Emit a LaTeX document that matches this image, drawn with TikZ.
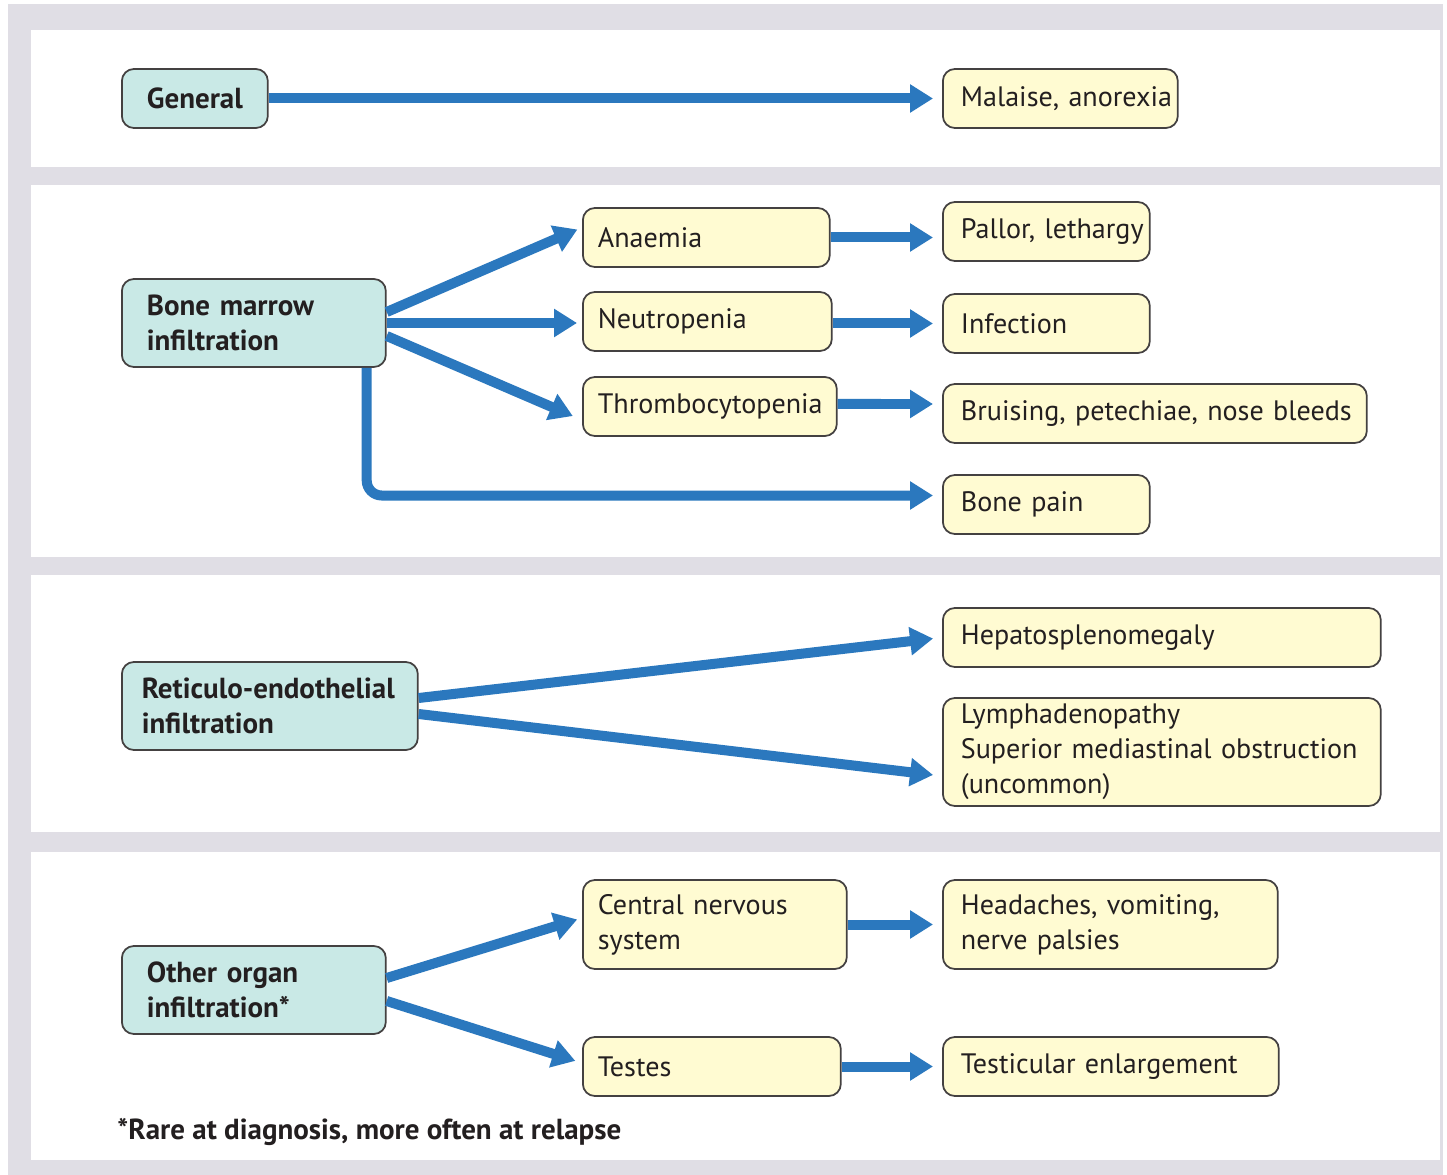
\documentclass[tikz,border=0pt]{standalone}
\usepackage{fontspec}
\setmainfont{PT Sans}
\usetikzlibrary{arrows.meta}

\definecolor{framegray}{HTML}{E0DEE5}
\definecolor{causefill}{HTML}{C9E9E6}
\definecolor{signfill}{HTML}{FFFBD2}
\definecolor{arrowblue}{HTML}{2B78BE}
\definecolor{inkdark}{HTML}{231F20}

\hyphenpenalty=10000
\exhyphenpenalty=10000

\begin{document}
\begin{tikzpicture}[
  x=0.02cm, y=-0.02cm,
  every node/.style={font=\fontsize{16}{20}\selectfont, text=inkdark},
  cause/.style={draw=inkdark!85, line width=1pt, fill=causefill,
    rounded corners=0.24cm, anchor=west, align=left,
    inner xsep=0.5cm, minimum height=1.76cm, font=\fontsize{16.5}{20}\selectfont\bfseries},
  sign/.style={draw=inkdark!85, line width=1pt, fill=signfill,
    rounded corners=0.24cm, anchor=west, align=left,
    inner xsep=0.36cm, minimum height=1.18cm},
  arr/.style={arrowblue, line width=0.2cm,
    -{Triangle[length=0.46cm, width=0.54cm]}, shorten >=0.18cm}
]
  \useasboundingbox (0,0) rectangle (1447,1175);
  % panels
  \fill[framegray] (8,4) rectangle (1443,1175);
  \fill[white] (31,30) rectangle (1440,167);
  \fill[white] (31,185) rectangle (1440,557);
  \fill[white] (31,575) rectangle (1440,832);
  \fill[white] (31,852) rectangle (1440,1160);

  % general
  \node[cause, inner xsep=0.4cm, minimum height=1.18cm, text width=2.12cm, align=center] (gen) at (121,98.5) {General};
  \node[sign, text width=3.98cm] (mal) at (942,98.5) {Malaise,~anorexia};
  \draw[arr] (gen) -- (mal);

  % bone marrow
  \node[cause, text width=4.28cm] (bm) at (121,323) {Bone marrow\\infiltration};
  \node[sign, inner xsep=0.3cm, text width=4.34cm] (an) at (582,237.5) {Anaemia};
  \node[sign, inner xsep=0.3cm, text width=4.38cm] (neu) at (582,321.5) {Neutropenia};
  \node[sign, inner xsep=0.3cm, text width=4.48cm] (thr) at (582,406.5) {Thrombocytopenia};
  \node[sign, text width=3.42cm] (pal) at (942,231.5) {Pallor,~lethargy};
  \node[sign, text width=3.42cm] (inf) at (942,323.5) {Infection};
  \node[sign, text width=7.76cm] (bru) at (942,413.5) {Bruising,~petechiae,~nose~bleeds};
  \node[sign, text width=3.42cm] (bp) at (942,504.5) {Bone pain};
  \draw[arr, shorten >=0.1cm] ([yshift=0.22cm]bm.east) -- ([yshift=0.2cm]an.west);
  \draw[arr, shorten >=0.1cm] (bm.east) -- (bm.east -| neu.west);
  \draw[arr, shorten >=0.2cm] ([yshift=-0.26cm]bm.east) -- ([yshift=-0.27cm]thr.west);
  \draw[arr] (an.east) -- (an.east -| pal.west);
  \draw[arr] (neu.east |- inf.west) -- (inf.west);
  \draw[arr] ([yshift=0.05cm]thr.east) -- ([yshift=0.19cm]bru.west);
  \draw[arr, rounded corners=0.3cm] ([xshift=-0.4cm]bm.south east) |- ([yshift=0.18cm]bp.west);

  % reticulo-endothelial
  \node[cause, inner xsep=0.4cm, text width=5.12cm] (re) at (121,706) {Reticulo-endothelial\\infiltration};
  \node[sign, text width=8.04cm] (hep) at (942,637.5) {Hepatosplenomegaly};
  \node[sign, text width=8.04cm, minimum height=2.16cm] (lym) at (942,752) {Lymphadenopathy\\Superior~mediastinal~obstruction\\(uncommon)};
  \draw[arr] ([yshift=0.16cm]re.east) -- (hep.west);
  \draw[arr] ([yshift=-0.16cm]re.east) -- ([yshift=-0.48cm]lym.west);

  % other organs
  \node[cause, text width=4.28cm] (oth) at (121,990) {Other organ\\infiltration*};
  \node[sign, inner xsep=0.3cm, text width=4.68cm, minimum height=1.78cm] (cns) at (582,924.5) {Central nervous\\system};
  \node[sign, text width=5.98cm, minimum height=1.78cm] (hea) at (942,924.5) {Headaches,~vomiting,\\nerve palsies};
  \node[sign, inner xsep=0.3cm, text width=4.56cm] (tes) at (582,1066.5) {Testes};
  \node[sign, text width=6.00cm] (tst) at (942,1066.5) {Testicular~enlargement};
  \draw[arr, shorten >=0.1cm] ([yshift=0.24cm]oth.east) -- ([yshift=0.13cm]cns.west);
  \draw[arr, shorten >=0.14cm] ([yshift=-0.22cm]oth.east) -- ([yshift=0.07cm]tes.west);
  \draw[arr] (cns) -- (hea);
  \draw[arr] (tes) -- (tst);

  \node[anchor=west, inner sep=0pt, font=\fontsize{16.5}{20}\selectfont\bfseries] (note) at (117,1132) {*Rare at diagnosis, more often at relapse};
\end{tikzpicture}
\end{document}
